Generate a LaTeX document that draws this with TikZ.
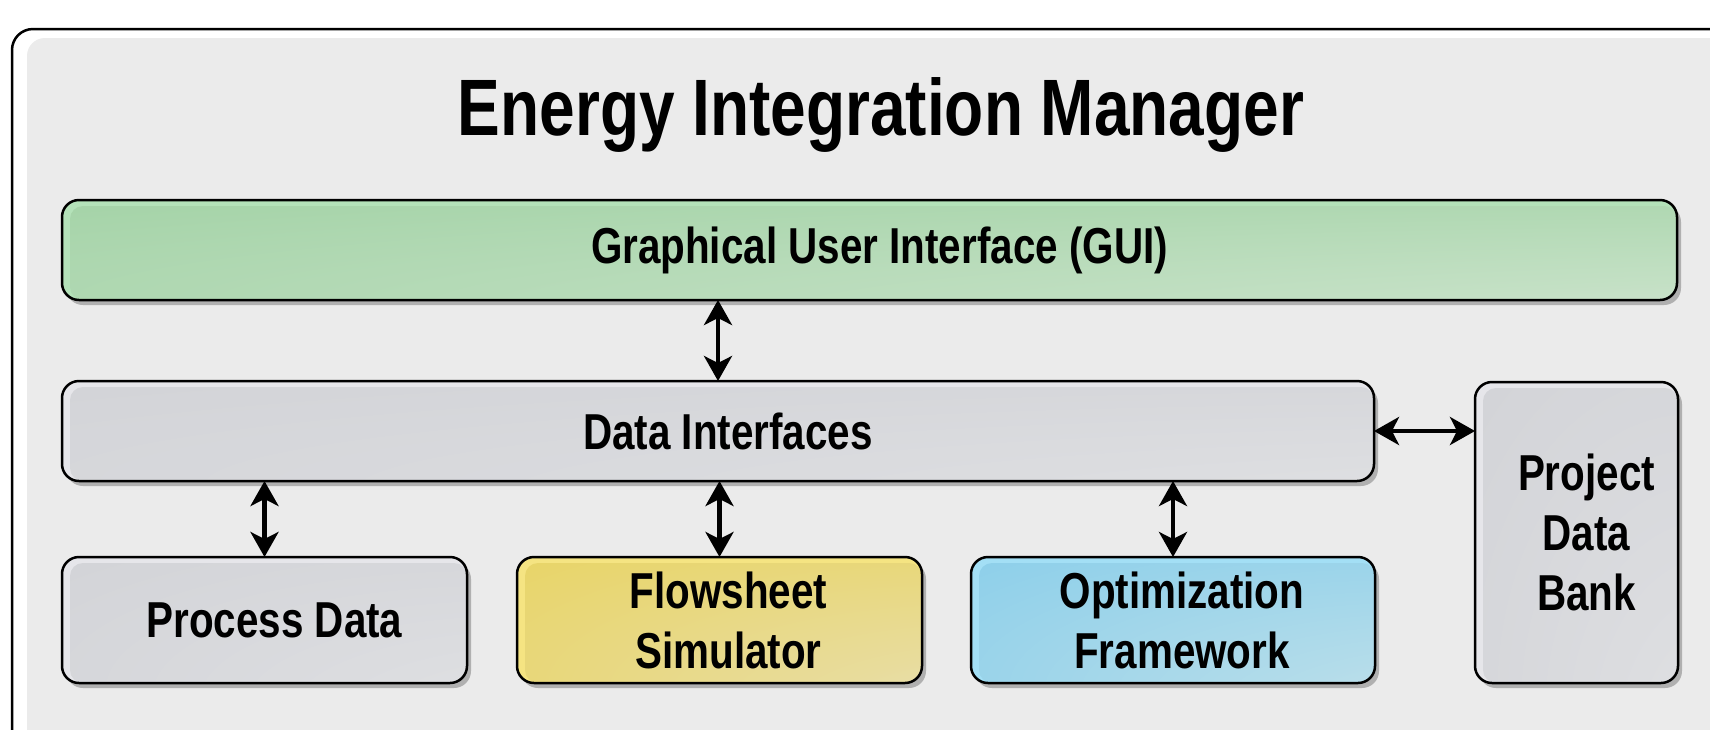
\documentclass[tikz,border=0pt]{standalone}
\usepackage{fontspec}
\setmainfont{Liberation Sans}[FakeStretch=0.8]
\usetikzlibrary{arrows.meta,shadows}
\definecolor{panel}{HTML}{EBEBEB}
\definecolor{guiA}{HTML}{A6D4A9}
\definecolor{guiM}{HTML}{C3E0C4}
\definecolor{guiB}{HTML}{E6E8E4}
\definecolor{guiR}{HTML}{B4E2B9}
\definecolor{gA}{HTML}{D3D4D8}
\definecolor{gM}{HTML}{DCDDE0}
\definecolor{gB}{HTML}{E8E8E8}
\definecolor{gR}{HTML}{E6E6EA}
\definecolor{yA}{HTML}{E8D56A}
\definecolor{yM}{HTML}{E8DC9C}
\definecolor{yB}{HTML}{EAE6D8}
\definecolor{yR}{HTML}{F5E482}
\definecolor{bA}{HTML}{8FD0EA}
\definecolor{bM}{HTML}{B3DCEA}
\definecolor{bB}{HTML}{DAE5EA}
\definecolor{bR}{HTML}{A3DFF5}
\pgfdeclareradialshading{shGui}{\pgfpoint{50bp}{-50bp}}{color(0bp)=(guiB); color(25bp)=(guiM); color(60bp)=(guiA); color(100bp)=(guiA)}
\pgfdeclareradialshading{shGrey}{\pgfpoint{50bp}{-50bp}}{color(0bp)=(gB); color(25bp)=(gM); color(60bp)=(gA); color(100bp)=(gA)}
\pgfdeclareradialshading{shYel}{\pgfpoint{50bp}{-50bp}}{color(0bp)=(yB); color(25bp)=(yM); color(60bp)=(yA); color(100bp)=(yA)}
\pgfdeclareradialshading{shBlue}{\pgfpoint{50bp}{-50bp}}{color(0bp)=(bB); color(25bp)=(bM); color(60bp)=(bA); color(100bp)=(bA)}
\newcommand\eimBoxFont{\bfseries\fontsize{50.5}{60}\selectfont}
\newcommand\eimTitleFont{\bfseries\fontsize{80}{96}\selectfont}
\begin{document}
\begin{tikzpicture}[x=1pt,y=-1pt,
  box/.style={draw=black, line width=2.5pt, rounded corners=17pt, inner sep=0pt, outer sep=0pt,
    drop shadow={shadow xshift=4pt, shadow yshift=-5pt, fill=black, opacity=0.25}},
  boxtext/.style={align=center, font=\eimBoxFont, inner sep=0pt},
  bevel/.style n args={2}{fill=#1, path picture={
    \shade[shading=#2, rounded corners=13pt]
      ([xshift=8pt,yshift=-6pt]path picture bounding box.north west)
      rectangle (path picture bounding box.south east);}},
  tipshape/.tip={Stealth[length=25pt,width=28pt,inset=7pt]},
  link/.style={line width=4.2pt, tipshape-tipshape}
]
\useasboundingbox (0,0) rectangle (1710,729);
\clip (0,0) rectangle (1710,729);
\fill[white] (0,0) rectangle (1710,729);
\draw[line width=2.5pt, rounded corners=21pt] (12,29) rectangle (1740,760);
\fill[panel, rounded corners=18pt] (27,38) rectangle (1730,750);

\node[anchor=base, font=\eimTitleFont] (title) at (881,135) {Energy Integration Manager};

\node[box, bevel={guiR}{shGui}, minimum width=1615pt, minimum height=100pt] (gui) at (869.5,250) {};
\node[box, bevel={gR}{shGrey}, minimum width=1312pt, minimum height=100pt] (di) at (718,431) {};
\node[box, bevel={gR}{shGrey}, minimum width=203pt, minimum height=301pt] (pdb) at (1576.5,532.5) {};
\node[box, bevel={gR}{shGrey}, minimum width=405pt, minimum height=126pt] (pd) at (264.5,620) {};
\node[box, bevel={yR}{shYel}, minimum width=405pt, minimum height=126pt] (fs) at (719.5,620) {};
\node[box, bevel={bR}{shBlue}, minimum width=404pt, minimum height=126pt] (of) at (1173,620) {};

\node[boxtext] (guit) at ([xshift=10pt]gui.center) {Graphical User Interface (GUI)};
\node[boxtext] (dit) at ([xshift=10pt]di.center) {Data Interfaces};
\node[boxtext] (pdbt) at ([xshift=10pt]pdb.center) {Project\\Data\\Bank};
\node[boxtext] (pdt) at ([xshift=10pt]pd.center) {Process Data};
\node[boxtext] (fst) at ([xshift=9pt]fs.center) {Flowsheet\\Simulator};
\node[boxtext] (oft) at ([xshift=9pt]of.center) {Optimization\\Framework};

\draw[link] (di.north |- gui.south) -- (di.north);
\draw[link] (pd.north |- di.south) -- (pd.north);
\draw[link] (fs.north |- di.south) -- (fs.north);
\draw[link] (of.north |- di.south) -- (of.north);
\draw[link] (di.east) -- (pdb.west |- di.east);
\end{tikzpicture}
\end{document}
